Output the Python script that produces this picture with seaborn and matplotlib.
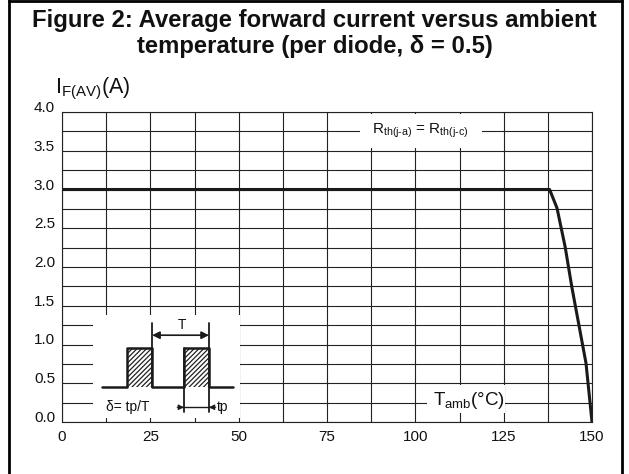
import numpy as np
import pandas as pd
import matplotlib
matplotlib.use("Agg")
import matplotlib.pyplot as plt
import seaborn as sns
from matplotlib.patches import Rectangle
from matplotlib.lines import Line2D

# derating curve
temp_amb = [0, 138.0, 140.1, 142.4, 144.3, 146.3, 148.3, 150.0]
if_av = [3.0, 3.0, 2.76, 2.26, 1.74, 1.25, 0.76, 0.0]

x_ticks = [0, 25, 50, 75, 100, 125, 150]
y_ticks = [0.0, 0.5, 1.0, 1.5, 2.0, 2.5, 3.0, 3.5, 4.0]

# pulse train sketch in the inset (duty cycle delta = tp/T)
pulse_x = [11.3, 18.4, 18.4, 25.5, 25.5, 34.5, 34.5, 41.6, 41.6, 48.4]
pulse_y = [0.45, 0.45, 0.95, 0.95, 0.45, 0.45, 0.95, 0.95, 0.45, 0.45]
pulse_starts = [18.4, 34.5]
pulse_width = 7.1

df = pd.DataFrame({"T": temp_amb, "I": if_av})

sns.set_theme(style="white")
plt.rcParams["font.family"] = ["Liberation Sans", "DejaVu Sans"]
plt.rcParams["mathtext.fontset"] = "custom"
plt.rcParams["mathtext.rm"] = "Liberation Sans"
plt.rcParams["hatch.linewidth"] = 0.9

fig = plt.figure(figsize=(6.29, 4.74), dpi=100)
ax = fig.add_axes([62 / 629, 1 - 422 / 474, 530 / 629, 310 / 474])

sns.lineplot(data=df, x="T", y="I", ax=ax, color="#1a1a1a", linewidth=2.2,
             estimator=None, sort=False, zorder=5)

ax.set_xlim(0, 150)
ax.set_ylim(0, 4.0)
ax.set_xticks(np.arange(0, 150.1, 12.5))
ax.set_xticklabels([f"{v:g}" if v in x_ticks else "" for v in np.arange(0, 150.1, 12.5)])
ax.set_yticks(np.arange(0, 4.01, 0.25))
ax.set_yticklabels([f"{v:.1f}" if round(v, 2) in y_ticks else "" for v in np.arange(0, 4.01, 0.25)])
ax.tick_params(axis="both", length=0, labelsize=11, colors="#111")
ax.tick_params(axis="x", pad=6)
ax.tick_params(axis="y", pad=5)
for lab in ax.get_yticklabels():
    lab.set_verticalalignment("baseline")
ax.grid(True, color="#222", linewidth=0.8)
ax.set_axisbelow(True)
for s in ax.spines.values():
    s.set_color("#222")
    s.set_linewidth(0.8)
ax.set_xlabel("")
ax.set_ylabel("")

# white patches that cut the grid behind the labels and the inset
ax.add_patch(Rectangle((8.8, 0.05), 41.6, 1.33, facecolor="white", edgecolor="none", zorder=1.5))
ax.add_patch(Rectangle((84.3, 3.54), 34.6, 0.43, facecolor="white", edgecolor="none", zorder=1.5))
ax.add_patch(Rectangle((103.3, 0.12), 22.1, 0.36, facecolor="white", edgecolor="none", zorder=1.5))

# inset pulse train
for x0 in pulse_starts:
    ax.add_patch(Rectangle((x0, 0.45), pulse_width, 0.5, facecolor="none", edgecolor="#222",
                           hatch="///////", linewidth=0, zorder=2))
ax.plot(pulse_x, pulse_y, color="#1a1a1a", linewidth=1.8, zorder=3)
ax.plot([25.5, 25.5], [0.45, 1.28], color="#1a1a1a", linewidth=1.3, zorder=3)
ax.plot([41.6, 41.6], [0.13, 1.28], color="#1a1a1a", linewidth=1.3, zorder=3)
ax.plot([34.5, 34.5], [0.13, 0.95], color="#1a1a1a", linewidth=1.3, zorder=3)
ax.annotate("", xy=(41.6, 1.12), xytext=(25.5, 1.12),
            arrowprops=dict(arrowstyle="<|-|>", color="#1a1a1a", lw=1.2,
                            shrinkA=0, shrinkB=0, mutation_scale=11), zorder=3)
ax.plot([32.8, 42.8], [0.19, 0.19], color="#1a1a1a", linewidth=1.0, zorder=3)
ax.annotate("", xy=(34.5, 0.19), xytext=(32.6, 0.19),
            arrowprops=dict(arrowstyle="-|>", color="#1a1a1a", lw=0.8,
                            shrinkA=0, shrinkB=0, mutation_scale=8), zorder=3)
ax.annotate("", xy=(41.6, 0.19), xytext=(43.5, 0.19),
            arrowprops=dict(arrowstyle="-|>", color="#1a1a1a", lw=0.8,
                            shrinkA=0, shrinkB=0, mutation_scale=8), zorder=3)
ax.text(34.0, 1.25, "T", ha="center", va="center", fontsize=10, color="#111", zorder=4)
ax.text(18.7, 0.19, "δ= tp/T", ha="center", va="center", fontsize=10, color="#111", zorder=4)
ax.text(43.8, 0.19, "tp", ha="left", va="center", fontsize=10, color="#111", zorder=4)

# curve labels
ax.text(87.7, 3.72, r"$\mathregular{R_{th(j\text{-}a)}}$ = $\mathregular{R_{th(j\text{-}c)}}$",
        ha="left", va="baseline", fontsize=11, color="#111", zorder=4)
ax.text(105.0, 0.22, r"$\mathregular{T_{amb}}$(°C)", ha="left", va="baseline",
        fontsize=13.5, color="#111", zorder=4)
ax.text(-0.013, 1.061, r"$\mathregular{I_{F(AV)}}$(A)", transform=ax.transAxes,
        ha="left", va="baseline", fontsize=15.5, color="#111")

# title
fig.text(0.5, 1 - 27 / 474, "Figure 2: Average forward current versus ambient",
         ha="center", va="baseline", fontsize=17.2, fontweight="bold", color="#111")
fig.text(0.5, 1 - 53 / 474, "temperature (per diode, δ = 0.5)",
         ha="center", va="baseline", fontsize=17.2, fontweight="bold", color="#111")

# frame around the whole figure (open at the bottom)
for xs, ys in [([8.5, 8.5], [0, 474]), ([621.5, 621.5], [0, 474]), ([8.5, 621.5], [473, 473])]:
    fig.add_artist(Line2D([x / 629 for x in xs], [y / 474 for y in ys],
                          color="black", linewidth=2.0, transform=fig.transFigure))

fig.savefig("out.png", dpi=100)
